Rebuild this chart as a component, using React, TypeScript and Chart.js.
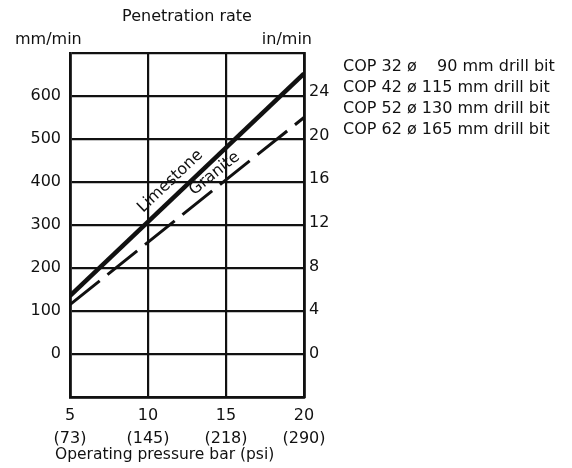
import React, { useEffect, useRef } from "react";
import { Chart, registerables } from "chart.js";

Chart.register(...registerables);

// ---- data ----
const pressureBar = [5, 20];
const limestoneMm = [135, 652];
const graniteMm = [115, 550];
const xTicksBar = [5, 10, 15, 20];
const xTicksPsi = ["(73)", "(145)", "(218)", "(290)"];
const mmTicks = [0, 100, 200, 300, 400, 500, 600];
const inTicks = [0, 4, 8, 12, 16, 20, 24];
const drillLines = [
  "COP 32 \u00f8 \u2007 90 mm drill bit",
  "COP 42 \u00f8 115 mm drill bit",
  "COP 52 \u00f8 130 mm drill bit",
  "COP 62 \u00f8 165 mm drill bit",
];
const MM_PER_IN = 25.4;

const FONT = "'DejaVu Sans', sans-serif";
const INK = "#111";

const textPlugin = {
  id: "extraText",
  afterDraw(chart: any) {
    const ctx = chart.ctx as CanvasRenderingContext2D;
    const xs = chart.scales.x;
    const ys = chart.scales.y;
    ctx.save();
    ctx.fillStyle = INK;
    ctx.textBaseline = "middle";
    ctx.font = `16px ${FONT}`;
    ctx.textAlign = "center";
    ctx.fillText("Penetration rate", 187, 17);
    ctx.textAlign = "left";
    ctx.fillText("mm/min", 15, 40);
    ctx.textAlign = "right";
    ctx.fillText("in/min", 312, 40);
    ctx.textAlign = "left";
    ctx.font = `15.5px ${FONT}`;
    ctx.fillText("Operating pressure bar (psi)", 55, 455);
    ctx.font = `16px ${FONT}`;
    drillLines.forEach((t, i) => ctx.fillText(t, 343, 67 + i * 21));

    const label = (text: string, vals: number[], at: number, off: number) => {
      const x0 = xs.getPixelForValue(pressureBar[0]);
      const y0 = ys.getPixelForValue(vals[0]);
      const x1 = xs.getPixelForValue(pressureBar[1]);
      const y1 = ys.getPixelForValue(vals[1]);
      const ang = Math.atan2(y1 - y0, x1 - x0);
      const px = x0 + (x1 - x0) * at;
      const py = y0 + (y1 - y0) * at;
      ctx.save();
      ctx.translate(px, py);
      ctx.rotate(ang);
      ctx.textAlign = "center";
      ctx.font = `16px ${FONT}`;
      ctx.fillText(text, 0, -off);
      ctx.restore();
    };
    label("Limestone", limestoneMm, 0.47, 14);
    label("Granite", graniteMm, 0.65, 12);
    ctx.restore();
  },
};

export default function App() {
  const ref = useRef<HTMLCanvasElement>(null);
  useEffect(() => {
    const chart = new Chart(ref.current!, {
      type: "line",
      data: {
        datasets: [
          {
            label: "Limestone",
            data: pressureBar.map((p, i) => ({ x: p, y: limestoneMm[i] })),
            borderColor: INK,
            borderWidth: 4.5,
            pointRadius: 0,
            yAxisID: "y",
          },
          {
            label: "Granite",
            data: pressureBar.map((p, i) => ({ x: p, y: graniteMm[i] })),
            borderColor: INK,
            borderWidth: 3,
            borderDash: [38, 10],
            pointRadius: 0,
            yAxisID: "y",
          },
        ],
      },
      options: {
        animation: false,
        responsive: false,
        layout: { padding: { top: 53, left: 0, right: 0, bottom: 0 } },
        plugins: { legend: { display: false }, tooltip: { enabled: false }, title: { display: false } },
        scales: {
          x: {
            type: "linear",
            min: 5,
            max: 20,
            afterFit: (s: any) => { s.height = 71; },
            afterBuildTicks: (s: any) => { s.ticks = xTicksBar.map((v) => ({ value: v })); },
            ticks: {
              color: INK,
              padding: 8,
              font: { family: FONT, size: 16, lineHeight: 1.4 },
              maxRotation: 0,
              callback: (v: any) => {
                const i = xTicksBar.indexOf(Number(v));
                return i >= 0 ? [String(v), xTicksPsi[i]] : "";
              },
            },
            grid: { color: INK, lineWidth: 2.2, drawTicks: false },
            border: { color: INK, width: 2.8 },
          },
          y: {
            type: "linear",
            position: "left",
            min: -100,
            max: 700,
            afterFit: (s: any) => { s.width = 70; },
            afterBuildTicks: (s: any) => {
              s.ticks = [-100, ...mmTicks, 700].map((v) => ({ value: v }));
            },
            ticks: {
              color: INK,
              padding: 9,
              font: { family: FONT, size: 16 },
              callback: (v: any) => (mmTicks.includes(Number(v)) ? String(v) : ""),
            },
            grid: { color: INK, lineWidth: 2.2, drawTicks: false },
            border: { color: INK, width: 2.8 },
          },
          yIn: {
            type: "linear",
            position: "right",
            min: -100 / MM_PER_IN,
            max: 700 / MM_PER_IN,
            afterFit: (s: any) => { s.width = 268; },
            afterBuildTicks: (s: any) => { s.ticks = inTicks.map((v) => ({ value: v })); },
            ticks: {
              color: INK,
              padding: 5,
              font: { family: FONT, size: 16 },
              callback: (v: any) => String(v),
            },
            grid: { drawOnChartArea: false, drawTicks: false },
            border: { color: INK, width: 2.8 },
          },
        },
      },
      plugins: [textPlugin],
    });
    return () => chart.destroy();
  }, []);
  return (
    <div style={{ position: "absolute", left: 0, top: 0, width: 572, height: 468, background: "#fff" }}>
      <canvas ref={ref} width={572} height={468} style={{ width: 572, height: 468 }} />
    </div>
  );
}
